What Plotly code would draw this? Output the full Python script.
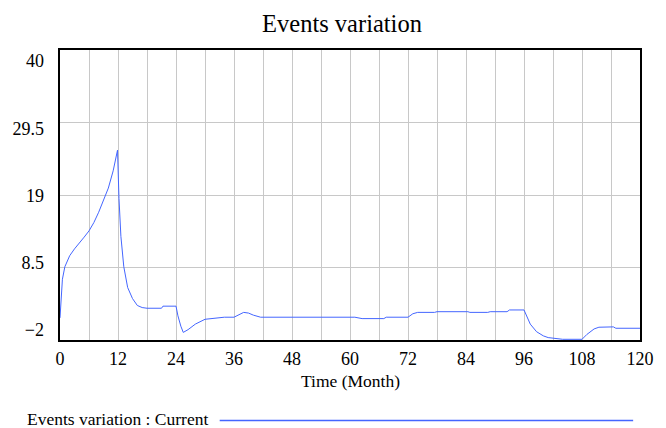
import plotly.graph_objects as go

time = [0, 0.25, 0.5, 1, 2, 3, 4, 5, 6, 7, 8, 9, 10, 11, 11.9, 12.2, 12.6, 13.2, 14, 15, 16, 17, 18,
        21, 21.3, 24, 24.4, 25, 25.5, 26.5, 28, 30, 32, 34, 36, 37, 38, 39, 40, 41.5, 52, 52.3,
        60, 61, 62.5, 67, 67.5, 72, 73, 74, 77.5, 78, 84.4, 84.8, 88.5, 89, 92.5, 93, 96, 96.5,
        97.3, 98.6, 100, 101, 102.7, 104, 108, 109, 110.5, 111.5, 114.5, 115, 120]
events = [1.2, 4.5, 6.8, 8.6, 10.2, 11.2, 12.0, 12.9, 13.8, 15.0, 16.5, 18.3, 20.0, 22.5, 25.5, 18.5, 13.0,
          8.6, 5.6, 4.0, 3.0, 2.7, 2.6, 2.6, 2.9, 2.9, 1.5, 0.0, -0.9, -0.5, 0.3, 1.0, 1.2, 1.3, 1.3,
          1.7, 2.0, 1.9, 1.6, 1.3, 1.3, 1.4, 1.4, 1.3, 1.1, 1.1, 1.3, 1.3, 1.8, 2.0, 2.0, 2.1, 2.1,
          2.0, 2.0, 2.1, 2.1, 2.35, 2.35, 1.6, 0.3, -0.8, -1.4, -1.65, -1.85, -1.9, -1.9, -1.2, -0.4,
          -0.15, -0.1, -0.3, -0.3]
y_ticks = [-2, 8.5, 19, 29.5, 40]
x_ticks = list(range(0, 121, 12))

FONT = "Liberation Serif"
LINE = "#4466ff"

fig = go.Figure()
fig.add_trace(go.Scatter(x=time, y=events, mode="lines", line=dict(color=LINE, width=1),
                         name="Events variation : Current", showlegend=False))
# empty trace so the label axis (y2) exists
fig.add_trace(go.Scatter(x=[], y=[], yaxis="y2", showlegend=False, hoverinfo="skip"))

fig.update_layout(
    width=666, height=428,
    margin=dict(l=60, r=14, t=50, b=88),
    paper_bgcolor="white", plot_bgcolor="white",
    font=dict(family=FONT, color="black"),
    title=dict(text="Events variation", x=342 / 666, xref="container", xanchor="center",
               y=1 - 23 / 428, yref="container", yanchor="middle", font=dict(family=FONT, size=24.5)),
    yaxis2=dict(overlaying="y", side="left", range=[-3.56, 41.72], tickvals=y_ticks,
                showgrid=False, zeroline=False, showline=False, ticks="",
                tickfont=dict(family=FONT, size=18), ticklabelstandoff=15),
)
fig.update_xaxes(range=[0, 120], tickvals=x_ticks, ticks="", showgrid=True,
                 gridcolor="#c8c8c8", gridwidth=1,
                 minor=dict(dtick=6, tick0=0, showgrid=True, gridcolor="#c8c8c8", gridwidth=1),
                 showline=True, linecolor="black", linewidth=2, mirror=True,
                 tickfont=dict(family=FONT, size=18), ticklabelstandoff=1, zeroline=False)
fig.update_yaxes(selector=dict(anchor="x"), range=[-2, 40], tickvals=y_ticks, ticks="",
                 showgrid=True, gridcolor="#c8c8c8", gridwidth=1, showticklabels=False,
                 showline=True, linecolor="black", linewidth=2, mirror=True, zeroline=False)
fig.layout.yaxis.update(range=[-2, 40], tickvals=y_ticks, ticks="", showgrid=True,
                        gridcolor="#c8c8c8", gridwidth=1, showticklabels=False,
                        showline=True, linecolor="black", linewidth=2, mirror=True, zeroline=False)

fig.add_annotation(text="Time (Month)", xref="paper", yref="paper", x=0.5,
                   y=-(381 - 340) / 290, xanchor="center", yanchor="middle", showarrow=False,
                   font=dict(family=FONT, size=17.5))
fig.add_annotation(text="Events variation : Current", xref="paper", yref="paper",
                   x=(26 - 60) / 592, y=-(419 - 340) / 290, xanchor="left", yanchor="middle",
                   showarrow=False, font=dict(family=FONT, size=17.5), xshift=-2)
fig.add_shape(type="line", xref="paper", yref="paper", x0=(223 - 60) / 592, x1=(645 - 60) / 592,
              y0=-(420.5 - 340) / 290, y1=-(420.5 - 340) / 290, line=dict(color=LINE, width=1.5))

fig.write_html("out.html")
